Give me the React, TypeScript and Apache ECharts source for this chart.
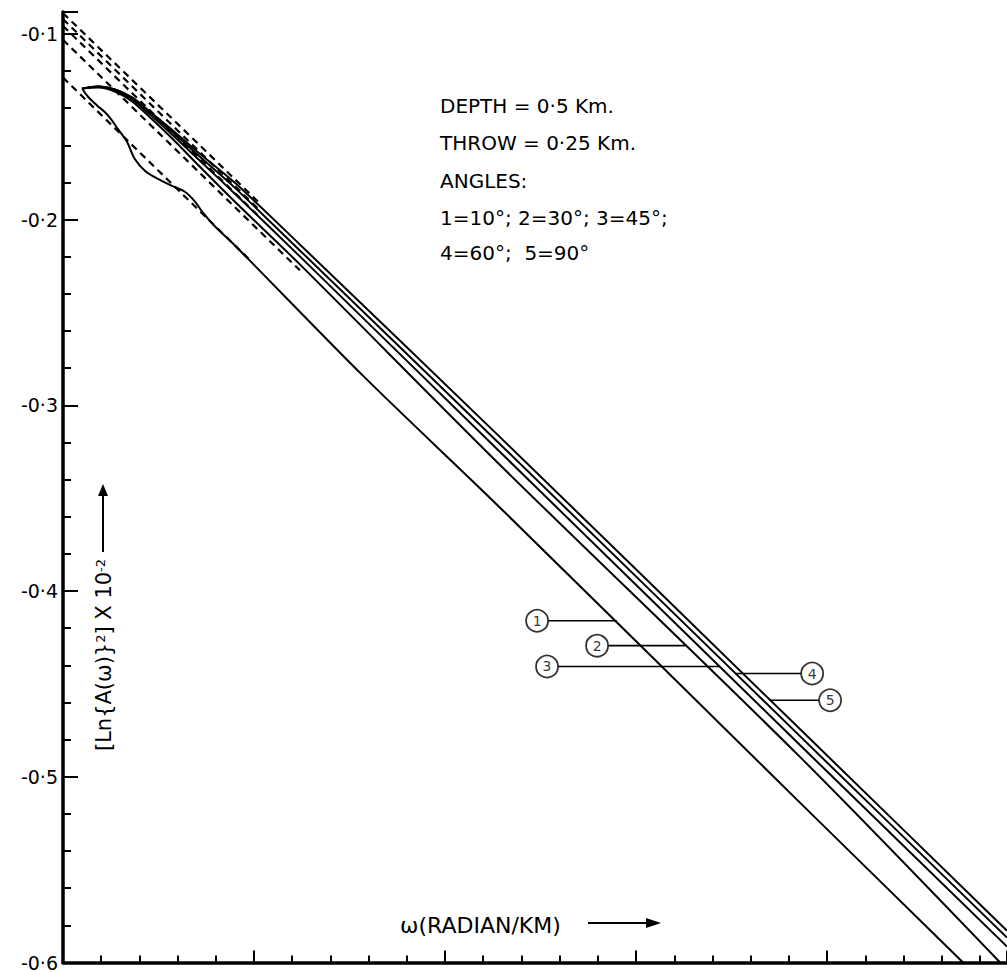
import React, { useEffect, useRef } from "react";
import * as echarts from "echarts";

// ---- data ----
// curve 1 (angle 10°)
const line1X = [0.5, 0.65, 0.89, 1.1, 1.28, 1.44, 1.68, 1.88, 2.15, 2.49, 2.85, 3.19, 3.46, 3.64, 3.98, 4.5, 7.85, 11.44, 19.29, 23.56];
const line1Y = [-0.1294, -0.1337, -0.1385, -0.1422, -0.1465, -0.1513, -0.1583, -0.1674, -0.1738, -0.1781, -0.1818, -0.185, -0.1904, -0.1957, -0.2037, -0.2139, -0.284, -0.3551, -0.5139, -0.6];
// curves 2..5 share the same frequency samples
const upperX = [0.5, 0.92, 1.36, 1.81, 2.33, 2.93, 3.59, 4.5, 6.2, 11.44, 19.29, 24.71];
const line2X = [0.5, 0.92, 1.36, 1.81, 2.33, 2.93, 3.59, 4.5, 6.2, 11.44, 19.29, 24.53];
const line2Y = [-0.1294, -0.1289, -0.131, -0.1364, -0.146, -0.1578, -0.1717, -0.1904, -0.2241, -0.3321, -0.4893, -0.6];
const line3Y = [-0.1294, -0.1283, -0.1305, -0.1353, -0.1444, -0.1556, -0.1684, -0.1861, -0.2198, -0.3251, -0.4829, -0.5914];
const line4Y = [-0.1294, -0.1283, -0.1299, -0.1348, -0.1433, -0.154, -0.1663, -0.1829, -0.2166, -0.3209, -0.4781, -0.5866];
const line5Y = [-0.1294, -0.1283, -0.1299, -0.1342, -0.1428, -0.1529, -0.1647, -0.1802, -0.2134, -0.3171, -0.4743, -0.5829];

// dashed asymptotes: [x0, y0, x1, y1]
const asym1 = [0, -0.1235, 4.9, -0.2219];
const asym2 = [0, -0.1032, 6.2, -0.2273];
const asym3 = [0, -0.0957, 5.16, -0.1989];
const asym4 = [0, -0.092, 5.16, -0.1952];
const asym5 = [0, -0.0888, 5.16, -0.1914];

// curve labels: number, circle position (x, y), leader from x to x
const labelNames = ["1", "2", "3", "4", "5"];
const labelCircleX = [12.41, 13.98, 12.67, 19.61, 20.08];
const labelY = [-0.416, -0.4294, -0.4406, -0.4444, -0.4588];
const leaderFrom = [12.7, 14.27, 12.96, 17.59, 18.51];
const leaderTo = [14.5, 16.28, 17.2, 19.32, 19.79];

const yTickLabels = [-0.6, -0.5, -0.4, -0.3, -0.2, -0.1];

const FONT = "DejaVu Sans";

function zip(xs: number[], ys: number[]) {
  return xs.map((x, i) => [x, ys[i]]);
}

export default function App() {
  const ref = useRef<HTMLDivElement>(null);
  useEffect(() => {
    document.body.style.margin = "0";
    const chart = echarts.init(ref.current!, null, { renderer: "svg" });
    const solid = (name: string, data: number[][]) => ({
      type: "line",
      name,
      data,
      showSymbol: false,
      smooth: 0.3,
      lineStyle: { color: "#000", width: 2 },
      z: 3,
    });
    const dashed = (a: number[]) => ({
      type: "line",
      data: [[a[0], a[1]], [a[2], a[3]]],
      showSymbol: false,
      lineStyle: { color: "#000", width: 2.2, type: [7, 5] },
      z: 2,
    });
    const leaders = labelNames.map((n, i) => ({
      type: "line",
      data: [[leaderFrom[i], labelY[i]], [leaderTo[i], labelY[i]]],
      showSymbol: false,
      lineStyle: { color: "#000", width: 1.6 },
      z: 3,
    }));
    const txt = (y: number, text: string) => ({
      type: "text",
      x: 0,
      y,
      style: { text, font: `20px '${FONT}'`, fill: "#000", verticalAlign: "middle" },
    });
    const option: any = {
      animation: false,
      backgroundColor: "#fff",
      grid: { left: 63, right: 0, top: 12, bottom: 4 },
      xAxis: {
        type: "value",
        min: 0,
        max: 24.71,
        interval: 5,
        axisLine: { lineStyle: { color: "#000", width: 3.5 } },
        axisTick: { inside: true, length: 12, lineStyle: { color: "#000", width: 2 } },
        minorTick: { show: true, splitNumber: 5, length: 7, lineStyle: { color: "#000", width: 2 } },
        axisLabel: { show: false },
        splitLine: { show: false },
      },
      yAxis: {
        type: "value",
        min: -0.6,
        max: -0.0882,
        interval: 0.1,
        axisLine: { show: true, lineStyle: { color: "#000", width: 3.5 } },
        axisTick: { inside: true, length: 15, lineStyle: { color: "#000", width: 2 } },
        minorTick: { show: true, splitNumber: 5, length: 8, lineStyle: { color: "#000", width: 2 } },
        splitLine: { show: false },
        axisLabel: {
          color: "#000",
          fontFamily: FONT,
          fontSize: 19,
          margin: 5,
          showMaxLabel: false,
          formatter: (v: number) => {
            const m = yTickLabels.find((t) => Math.abs(t - v) < 1e-6);
            return m === undefined ? "" : m.toFixed(1).replace(".", "·");
          },
        },
      },
      series: [
        solid("1", zip(line1X, line1Y)),
        solid("2", zip(line2X, line2Y)),
        solid("3", zip(upperX, line3Y)),
        solid("4", zip(upperX, line4Y)),
        solid("5", zip(upperX, line5Y)),
        dashed(asym1),
        dashed(asym2),
        dashed(asym3),
        dashed(asym4),
        dashed(asym5),
        ...leaders,
        {
          type: "scatter",
          data: labelNames.map((n, i) => ({ value: [labelCircleX[i], labelY[i]], name: n })),
          symbol: "circle",
          symbolSize: 22,
          itemStyle: { color: "#fff", borderColor: "#000", borderWidth: 1.8 },
          label: {
            show: true,
            position: "inside",
            formatter: (p: any) => p.name,
            color: "#000",
            fontFamily: FONT,
            fontSize: 14,
          },
          z: 4,
        },
      ],
      graphic: [
        {
          type: "group",
          left: 440,
          top: 96,
          children: [
            txt(0, "DEPTH = 0·5 Km."),
            txt(37, "THROW = 0·25 Km."),
            txt(75, "ANGLES:"),
            txt(112, "1=10°; 2=30°; 3=45°;"),
            txt(147, "4=60°;  5=90°"),
          ],
        },
        {
          type: "text",
          x: 104,
          y: 655,
          rotation: Math.PI / 2,
          style: {
            text: "[Ln{A(ω)}{sup|2}] X 10{sup|-2}",
            font: `21px '${FONT}'`,
            fill: "#000",
            align: "center",
            verticalAlign: "middle",
            rich: {
              sup: { fontSize: 13, fontFamily: FONT, verticalAlign: "top", fill: "#000" },
            },
          },
        },
        { type: "line", shape: { x1: 103, y1: 552, x2: 103, y2: 494 }, style: { stroke: "#000", lineWidth: 2 } },
        { type: "polygon", shape: { points: [[98, 496], [108, 496], [103, 484]] }, style: { fill: "#000" } },
        {
          type: "text",
          x: 400,
          y: 925,
          style: { text: "ω(RADIAN/KM)", font: `22px '${FONT}'`, fill: "#000", verticalAlign: "middle" },
        },
        { type: "line", shape: { x1: 588, y1: 923, x2: 650, y2: 923 }, style: { stroke: "#000", lineWidth: 2 } },
        { type: "polygon", shape: { points: [[646, 918], [646, 928], [661, 923]] }, style: { fill: "#000" } },
      ],
    };
    chart.setOption(option);
    return () => chart.dispose();
  }, []);
  return <div ref={ref} style={{ width: 1007, height: 972 }} />;
}
